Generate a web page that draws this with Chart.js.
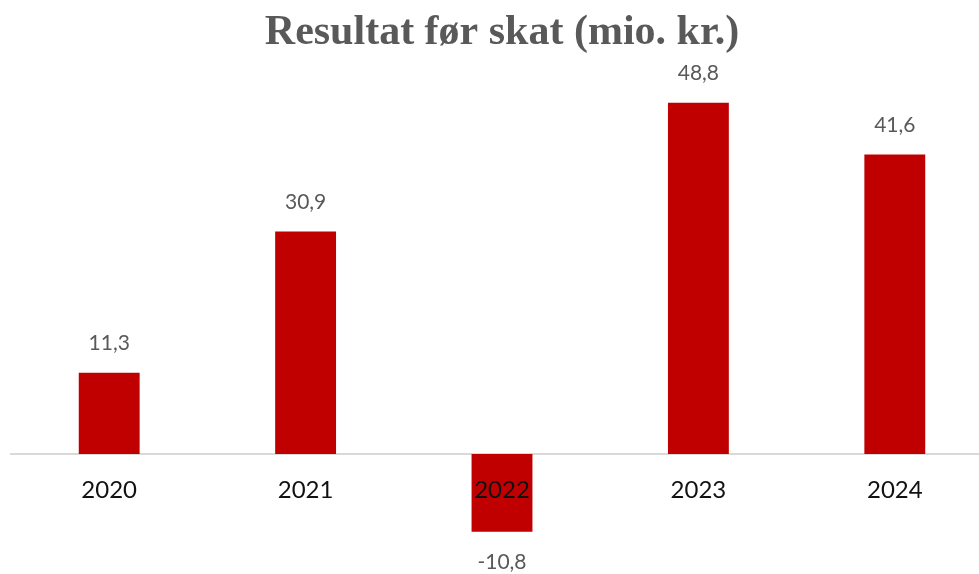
<!DOCTYPE html>
<html>
<head>
<meta charset="utf-8">
<script src="https://cdn.jsdelivr.net/npm/chart.js@4/dist/chart.umd.min.js"></script>
<style>
  html, body { margin: 0; padding: 0; background: #fff; overflow: hidden; }
  #wrap { width: 1000px; height: 574px; }
</style>
</head>
<body>
<div id="wrap"><canvas id="chart" width="1000" height="574"></canvas></div>
<script>
// data
const years = ['2020', '2021', '2022', '2023', '2024'];
const resultat = [11.3, 30.9, -10.8, 48.8, 41.6];
const chartTitle = 'Resultat før skat (mio. kr.)';

// titel tegnes selv, så diagrammet ikke flytter sig
const titlePlugin = {
  id: 'fixedTitle',
  afterDraw(chart) {
    const ctx = chart.ctx;
    ctx.save();
    ctx.font = 'bold 42px "Liberation Serif"';
    ctx.fillStyle = '#595959';
    ctx.textAlign = 'center';
    ctx.textBaseline = 'middle';
    ctx.fillText(chartTitle, 502, 33);
    ctx.restore();
  }
};

// værdier over/under søjlerne
const valueLabels = {
  id: 'valueLabels',
  afterDatasetsDraw(chart) {
    const ctx = chart.ctx;
    const meta = chart.getDatasetMeta(0);
    ctx.save();
    ctx.font = '21px Lato';
    ctx.fillStyle = '#595959';
    ctx.textAlign = 'center';
    ctx.textBaseline = 'middle';
    meta.data.forEach((bar, i) => {
      const v = resultat[i];
      const txt = v.toFixed(1).replace('.', ',');
      const y = v >= 0 ? bar.y - 29 : bar.y + 30;
      ctx.fillText(txt, bar.x, y);
    });
    ctx.restore();
  }
};

new Chart(document.getElementById('chart'), {
  type: 'bar',
  data: {
    labels: years,
    datasets: [{
      data: resultat,
      backgroundColor: '#C00000',
      borderWidth: 0,
      barPercentage: 0.31,
      categoryPercentage: 1
    }]
  },
  options: {
    responsive: false,
    animation: false,
    layout: { padding: { top: 58, bottom: 12, left: 11, right: 7 } },
    plugins: {
      legend: { display: false },
      title: { display: false },
      tooltip: { enabled: false }
    },
    scales: {
      x: {
        position: { y: 0 },
        afterFit: (scale) => { scale.height = 0; },
        grid: { display: false, drawTicks: false },
        border: { display: true, color: '#d9d9d9', width: 2 },
        ticks: { z: 1, color: '#111', padding: 22, autoSkip: false, maxRotation: 0, font: { family: 'Lato', size: 24 } }
      },
      y: {
        display: false,
        min: -15,
        max: 55
      }
    }
  },
  plugins: [titlePlugin, valueLabels]
});
</script>
</body>
</html>
